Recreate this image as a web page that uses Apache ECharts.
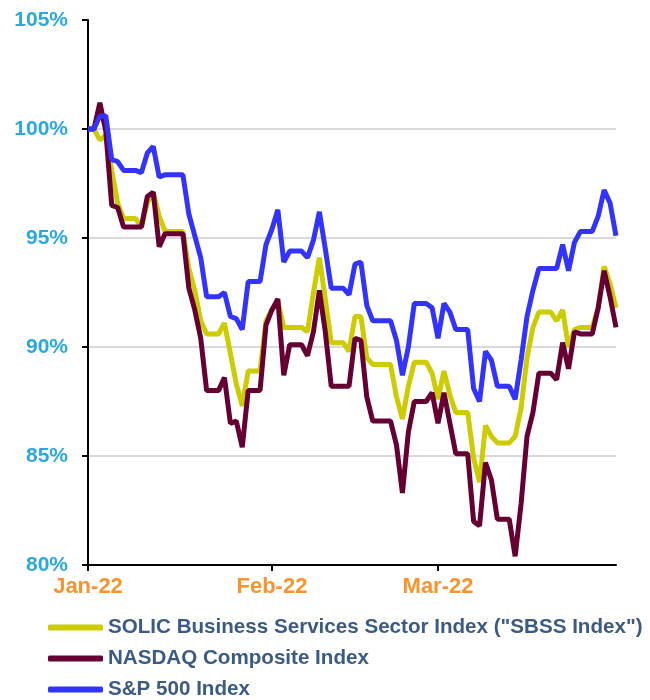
<!DOCTYPE html>
<html>
<head>
<meta charset="utf-8">
<script src="https://cdn.jsdelivr.net/npm/echarts@6/dist/echarts.min.js"></script>
<style>
html,body{margin:0;padding:0;background:#fff;}
#chart{width:650px;height:700px;}
</style>
</head>
<body>
<div id="chart"></div>
<script>
// Daily calendar dates (weekends/holidays carry the previous close)
const dates = [
'2022-01-01','2022-01-02','2022-01-03','2022-01-04','2022-01-05','2022-01-06','2022-01-07','2022-01-08','2022-01-09','2022-01-10',
'2022-01-11','2022-01-12','2022-01-13','2022-01-14','2022-01-15','2022-01-16','2022-01-17','2022-01-18','2022-01-19','2022-01-20',
'2022-01-21','2022-01-22','2022-01-23','2022-01-24','2022-01-25','2022-01-26','2022-01-27','2022-01-28','2022-01-29','2022-01-30',
'2022-01-31','2022-02-01','2022-02-02','2022-02-03','2022-02-04','2022-02-05','2022-02-06','2022-02-07','2022-02-08','2022-02-09',
'2022-02-10','2022-02-11','2022-02-12','2022-02-13','2022-02-14','2022-02-15','2022-02-16','2022-02-17','2022-02-18','2022-02-19',
'2022-02-20','2022-02-21','2022-02-22','2022-02-23','2022-02-24','2022-02-25','2022-02-26','2022-02-27','2022-02-28','2022-03-01',
'2022-03-02','2022-03-03','2022-03-04','2022-03-05','2022-03-06','2022-03-07','2022-03-08','2022-03-09','2022-03-10','2022-03-11',
'2022-03-12','2022-03-13','2022-03-14','2022-03-15','2022-03-16','2022-03-17','2022-03-18','2022-03-19','2022-03-20','2022-03-21',
'2022-03-22','2022-03-23','2022-03-24','2022-03-25','2022-03-26','2022-03-27','2022-03-28','2022-03-29','2022-03-30','2022-03-31'
];

const tickDates = ['2022-01-01','2022-02-01','2022-03-01'];
const tickLabels = ['Jan-22','Feb-22','Mar-22'];

const seriesNames = ['SOLIC Business Services Sector Index ("SBSS Index")','NASDAQ Composite Index','S&P 500 Index'];

const sbss = [
100.0,100.0,99.5,99.7,98.1,96.6,95.9,95.9,95.9,95.5,
96.6,97.1,96.0,95.3,95.3,95.3,95.3,93.6,92.6,91.2,
90.6,90.6,90.6,91.1,89.7,88.3,87.3,88.9,88.9,88.9,
91.2,91.7,92.1,90.9,90.9,90.9,90.9,90.7,92.5,94.1,
92.2,90.2,90.2,90.2,89.8,91.4,91.4,89.5,89.2,89.2,
89.2,89.2,87.7,86.7,88.2,89.3,89.3,89.3,88.8,87.6,
88.9,87.8,87.0,87.0,87.0,84.9,83.8,86.4,85.9,85.6,
85.6,85.6,85.9,87.2,89.5,90.9,91.6,91.6,91.6,91.2,
91.7,90.0,90.8,90.9,90.9,90.9,91.8,93.7,92.9,91.8
];

const nasdaq = [
100.0,100.0,101.2,99.9,96.5,96.4,95.5,95.5,95.5,95.5,
96.9,97.1,94.6,95.2,95.2,95.2,95.2,92.7,91.7,90.4,
88.0,88.0,88.0,88.6,86.5,86.6,85.4,88.0,88.0,88.0,
91.0,91.7,92.2,88.7,90.1,90.1,90.1,89.6,90.7,92.6,
90.7,88.2,88.2,88.2,88.2,90.4,90.3,87.7,86.6,86.6,
86.6,86.6,85.5,83.3,86.1,87.5,87.5,87.5,87.9,86.5,
87.9,86.5,85.1,85.1,85.1,82.0,81.8,84.7,83.9,82.1,
82.1,82.1,80.4,82.8,85.9,87.0,88.8,88.8,88.8,88.5,
90.2,89.0,90.7,90.6,90.6,90.6,91.8,93.5,92.3,90.9
];

const sp500 = [
100.0,100.0,100.6,100.6,98.6,98.5,98.1,98.1,98.1,98.0,
98.9,99.2,97.8,97.9,97.9,97.9,97.9,96.1,95.1,94.1,
92.3,92.3,92.3,92.5,91.4,91.3,90.8,93.0,93.0,93.0,
94.7,95.4,96.3,93.9,94.4,94.4,94.4,94.1,94.9,96.2,
94.5,92.7,92.7,92.7,92.4,93.8,93.9,91.9,91.2,91.2,
91.2,91.2,90.3,88.7,90.0,92.0,92.0,92.0,91.8,90.4,
92.0,91.6,90.8,90.8,90.8,88.1,87.5,89.8,89.4,88.2,
88.2,88.2,87.6,89.4,91.4,92.6,93.6,93.6,93.6,93.6,
94.7,93.5,94.8,95.3,95.3,95.3,96.0,97.2,96.6,95.1
];

const colors = ['#CCCC00', '#660033', '#3333FF'];
const FONT = 'Arial, "Liberation Sans", sans-serif';

const isTick = function (index, value) { return tickDates.indexOf(value) >= 0; };

const chart = echarts.init(document.getElementById('chart'), null, {renderer: 'canvas'});
chart.setOption({
  animation: false,
  backgroundColor: '#ffffff',
  grid: {left: 88, right: 34, top: 20, bottom: 135, containLabel: false},
  legend: {
    orient: 'vertical',
    left: 48,
    top: 617,
    padding: 0,
    itemWidth: 55,
    itemHeight: 6,
    itemGap: 10,
    icon: 'roundRect',
    textStyle: {fontFamily: FONT, fontSize: 20.6, fontWeight: 'bold', color: '#3B5B82'},
    data: seriesNames
  },
  xAxis: {
    type: 'category',
    data: dates,
    boundaryGap: false,
    axisLine: {show: true, lineStyle: {color: '#000000', width: 2}},
    axisTick: {show: true, interval: isTick, length: 6, lineStyle: {color: '#000000', width: 2}},
    axisLabel: {
      interval: isTick,
      margin: 11,
      fontFamily: FONT, fontSize: 22, fontWeight: 'bold', color: '#F7942E',
      formatter: function (v) { const k = tickDates.indexOf(v); return k >= 0 ? tickLabels[k] : ''; }
    },
    splitLine: {show: false}
  },
  yAxis: {
    type: 'value',
    min: 80, max: 105, interval: 5,
    axisLine: {show: true, lineStyle: {color: '#000000', width: 2}},
    axisTick: {show: true, length: 6, lineStyle: {color: '#000000', width: 2}},
    axisLabel: {
      margin: 20,
      fontFamily: FONT, fontSize: 21, fontWeight: 'bold', color: '#2AA8E0',
      formatter: '{value}%'
    },
    splitLine: {show: true, lineStyle: {color: ['#D9D9D9','#D9D9D9','#D9D9D9','#D9D9D9','#D9D9D9','rgba(0,0,0,0)'], width: 2}}
  },
  series: [
    {name: seriesNames[0], type: 'line', data: sbss, showSymbol: false, symbol: 'none',
     lineStyle: {color: colors[0], width: 5}, itemStyle: {color: colors[0]}, z: 2},
    {name: seriesNames[1], type: 'line', data: nasdaq, showSymbol: false, symbol: 'none',
     lineStyle: {color: colors[1], width: 5}, itemStyle: {color: colors[1]}, z: 3},
    {name: seriesNames[2], type: 'line', data: sp500, showSymbol: false, symbol: 'none',
     lineStyle: {color: colors[2], width: 5}, itemStyle: {color: colors[2]}, z: 4}
  ]
});
</script>
</body>
</html>
